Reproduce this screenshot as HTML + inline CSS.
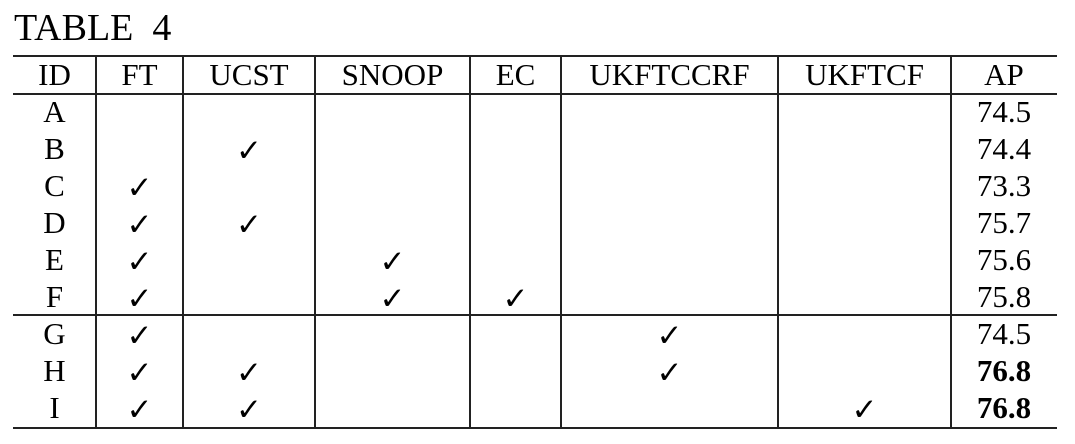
<!DOCTYPE html>
<html><head><style>
body{margin:0;width:1075px;height:444px;background:#fff;position:relative;font-family:"Liberation Serif",serif;color:#000;overflow:hidden}
.t{position:absolute;left:14px;top:6px;font-size:38px;line-height:44px;letter-spacing:0px}
.h{position:absolute;left:13px;width:1044px;height:2px;background:#222}
.v{position:absolute;width:2px;background:#222}
.c{position:absolute;text-align:center;font-size:31px;line-height:37px;white-space:nowrap}
.k{font-family:"DejaVu Sans",sans-serif;font-size:31px;font-weight:bold;margin-top:3px}
b{font-weight:bold}
</style></head><body>
<div class="t">TABLE&nbsp; 4</div>
<div class="h" style="top:55px"></div>
<div class="h" style="top:93px"></div>
<div class="h" style="top:314px"></div>
<div class="h" style="top:427px"></div>
<div class="v" style="left:95px;top:55px;height:373px"></div>
<div class="v" style="left:182px;top:55px;height:373px"></div>
<div class="v" style="left:314px;top:55px;height:373px"></div>
<div class="v" style="left:469px;top:55px;height:373px"></div>
<div class="v" style="left:560px;top:55px;height:373px"></div>
<div class="v" style="left:777px;top:55px;height:373px"></div>
<div class="v" style="left:950px;top:55px;height:373px"></div>

<div class="c" style="left:13px;width:83px;top:56px">ID</div>
<div class="c" style="left:96px;width:87px;top:56px">FT</div>
<div class="c" style="left:183px;width:132px;top:56px">UCST</div>
<div class="c" style="left:315px;width:155px;top:56px">SNOOP</div>
<div class="c" style="left:470px;width:91px;top:56px">EC</div>
<div class="c" style="left:561px;width:217px;top:56px">UKFTCCRF</div>
<div class="c" style="left:778px;width:173px;top:56px">UKFTCF</div>
<div class="c" style="left:951px;width:106px;top:56px">AP</div>

<div class="c" style="left:13px;width:83px;top:93px">A</div>
<div class="c" style="left:13px;width:83px;top:130px">B</div>
<div class="c" style="left:13px;width:83px;top:167px">C</div>
<div class="c" style="left:13px;width:83px;top:204px">D</div>
<div class="c" style="left:13px;width:83px;top:241px">E</div>
<div class="c" style="left:13px;width:83px;top:278px">F</div>
<div class="c" style="left:13px;width:83px;top:315px">G</div>
<div class="c" style="left:13px;width:83px;top:352px">H</div>
<div class="c" style="left:13px;width:83px;top:389px">I</div>

<div class="c" style="left:951px;width:106px;top:93px">74.5</div>
<div class="c" style="left:951px;width:106px;top:130px">74.4</div>
<div class="c" style="left:951px;width:106px;top:167px">73.3</div>
<div class="c" style="left:951px;width:106px;top:204px">75.7</div>
<div class="c" style="left:951px;width:106px;top:241px">75.6</div>
<div class="c" style="left:951px;width:106px;top:278px">75.8</div>
<div class="c" style="left:951px;width:106px;top:315px">74.5</div>
<div class="c" style="left:951px;width:106px;top:352px"><b>76.8</b></div>
<div class="c" style="left:951px;width:106px;top:389px"><b>76.8</b></div>

<div class="c k" style="left:96px;width:87px;top:167px">✓</div>
<div class="c k" style="left:96px;width:87px;top:204px">✓</div>
<div class="c k" style="left:96px;width:87px;top:241px">✓</div>
<div class="c k" style="left:96px;width:87px;top:278px">✓</div>
<div class="c k" style="left:96px;width:87px;top:315px">✓</div>
<div class="c k" style="left:96px;width:87px;top:352px">✓</div>
<div class="c k" style="left:96px;width:87px;top:389px">✓</div>
<div class="c k" style="left:183px;width:132px;top:130px">✓</div>
<div class="c k" style="left:183px;width:132px;top:204px">✓</div>
<div class="c k" style="left:183px;width:132px;top:352px">✓</div>
<div class="c k" style="left:183px;width:132px;top:389px">✓</div>
<div class="c k" style="left:315px;width:155px;top:241px">✓</div>
<div class="c k" style="left:315px;width:155px;top:278px">✓</div>
<div class="c k" style="left:470px;width:91px;top:278px">✓</div>
<div class="c k" style="left:561px;width:217px;top:315px">✓</div>
<div class="c k" style="left:561px;width:217px;top:352px">✓</div>
<div class="c k" style="left:778px;width:173px;top:389px">✓</div>
</body></html>
